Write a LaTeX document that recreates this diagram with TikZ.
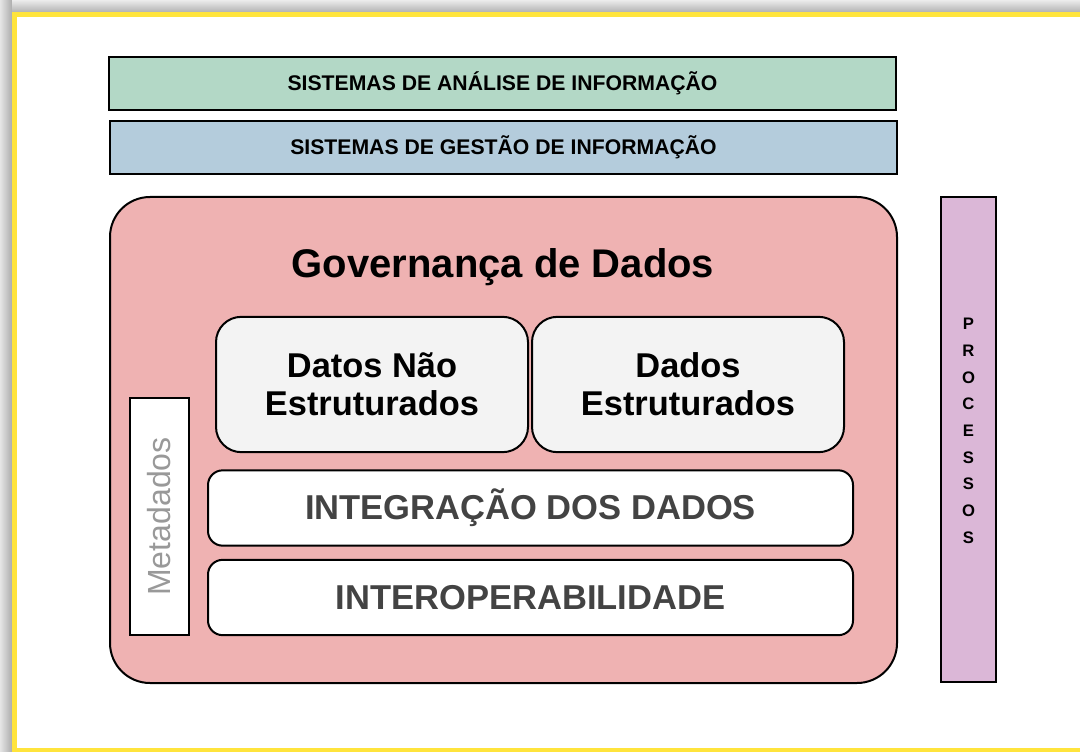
\documentclass[tikz,border=0pt]{standalone}
\usepackage{fontspec}
\setmainfont{Liberation Sans}
\usetikzlibrary{positioning}
\definecolor{amarelo}{HTML}{FFE43C}
\definecolor{verde}{HTML}{B3D8C6}
\definecolor{azul}{HTML}{B4CCDC}
\definecolor{rosa}{HTML}{EFB2B2}
\definecolor{lilas}{HTML}{DBB7D7}
\definecolor{cinza}{HTML}{F3F3F3}
\definecolor{texto}{HTML}{434343}
\definecolor{meta}{HTML}{999999}

\begin{document}
\begin{tikzpicture}[
        x=0.75pt, y=-0.75pt,
        base/.style={draw, line width=1.5pt, inner sep=0pt, outer sep=0pt, align=center, font=\bfseries},
        layer/.style={base, minimum width=590pt, minimum height=39.75pt, font=\fontsize{15.9}{18}\selectfont\bfseries},
        dados/.style={base, rounded corners=19pt, fill=cinza, minimum width=234pt, minimum height=101.5pt, font=\fontsize{25.8}{28.5}\selectfont\bfseries},
        faixa/.style={base, rounded corners=11pt, fill=white, minimum width=483.75pt, minimum height=56.5pt, text=texto, font=\fontsize{25.9}{28}\selectfont\bfseries}
    ]

    \useasboundingbox (0,0) rectangle (1080,752);
    \clip (0,0) rectangle (1080,752);

    % Frame
    \shade[left color=gray!20, right color=gray!65] (0,0) rectangle (12,752);
    \shade[top color=gray!15, bottom color=gray!60] (12,0) rectangle (1080,12);
    \draw[amarelo, line width=3.75pt] (14.5,14.5) rectangle (1095,750.5);

    % Layers
    \node[layer, fill=verde] (analise) at (502.5,83.5) {SISTEMAS DE ANÁLISE DE INFORMAÇÃO};
    \node[layer, fill=azul] (gestao) at (503.5,147.5) {SISTEMAS DE GESTÃO DE INFORMAÇÃO};

    % Governance
    \node[base, rounded corners=30pt, fill=rosa, minimum width=590.25pt, minimum height=364.5pt] (governanca) at (503.5,440) {};
    \node[font=\fontsize{30}{34}\selectfont\bfseries] (titulo) at (503,267) {Governança de Dados};
    \node[dados] (naoestruturados) at (372,384.5) {Datos Não\\Estruturados};
    \node[dados, right=3pt of naoestruturados] (estruturados) {Dados\\Estruturados};
    \node[faixa] (integracao) at (530.5,508) {INTEGRAÇÃO DOS DADOS};
    \node[faixa] (interoperabilidade) at (530.5,597.5) {INTEROPERABILIDADE};
    \node[base, line width=1.2pt, fill=white, rotate=90, minimum width=177.75pt, minimum height=44.25pt, text=meta, font=\fontsize{24}{26}\selectfont] (metadados) at (159.5,516.5) {Metadados};

    % Processes
    \node[base, fill=lilas, minimum width=41.25pt, minimum height=363.75pt] (processos) at (968.5,439.5) {};
    \node[align=center, font=\fontsize{12.5}{20}\selectfont\bfseries] (processoslabel) at (968.5,431) {P\\R\\O\\C\\E\\S\\S\\O\\S};

\end{tikzpicture}
\end{document}
